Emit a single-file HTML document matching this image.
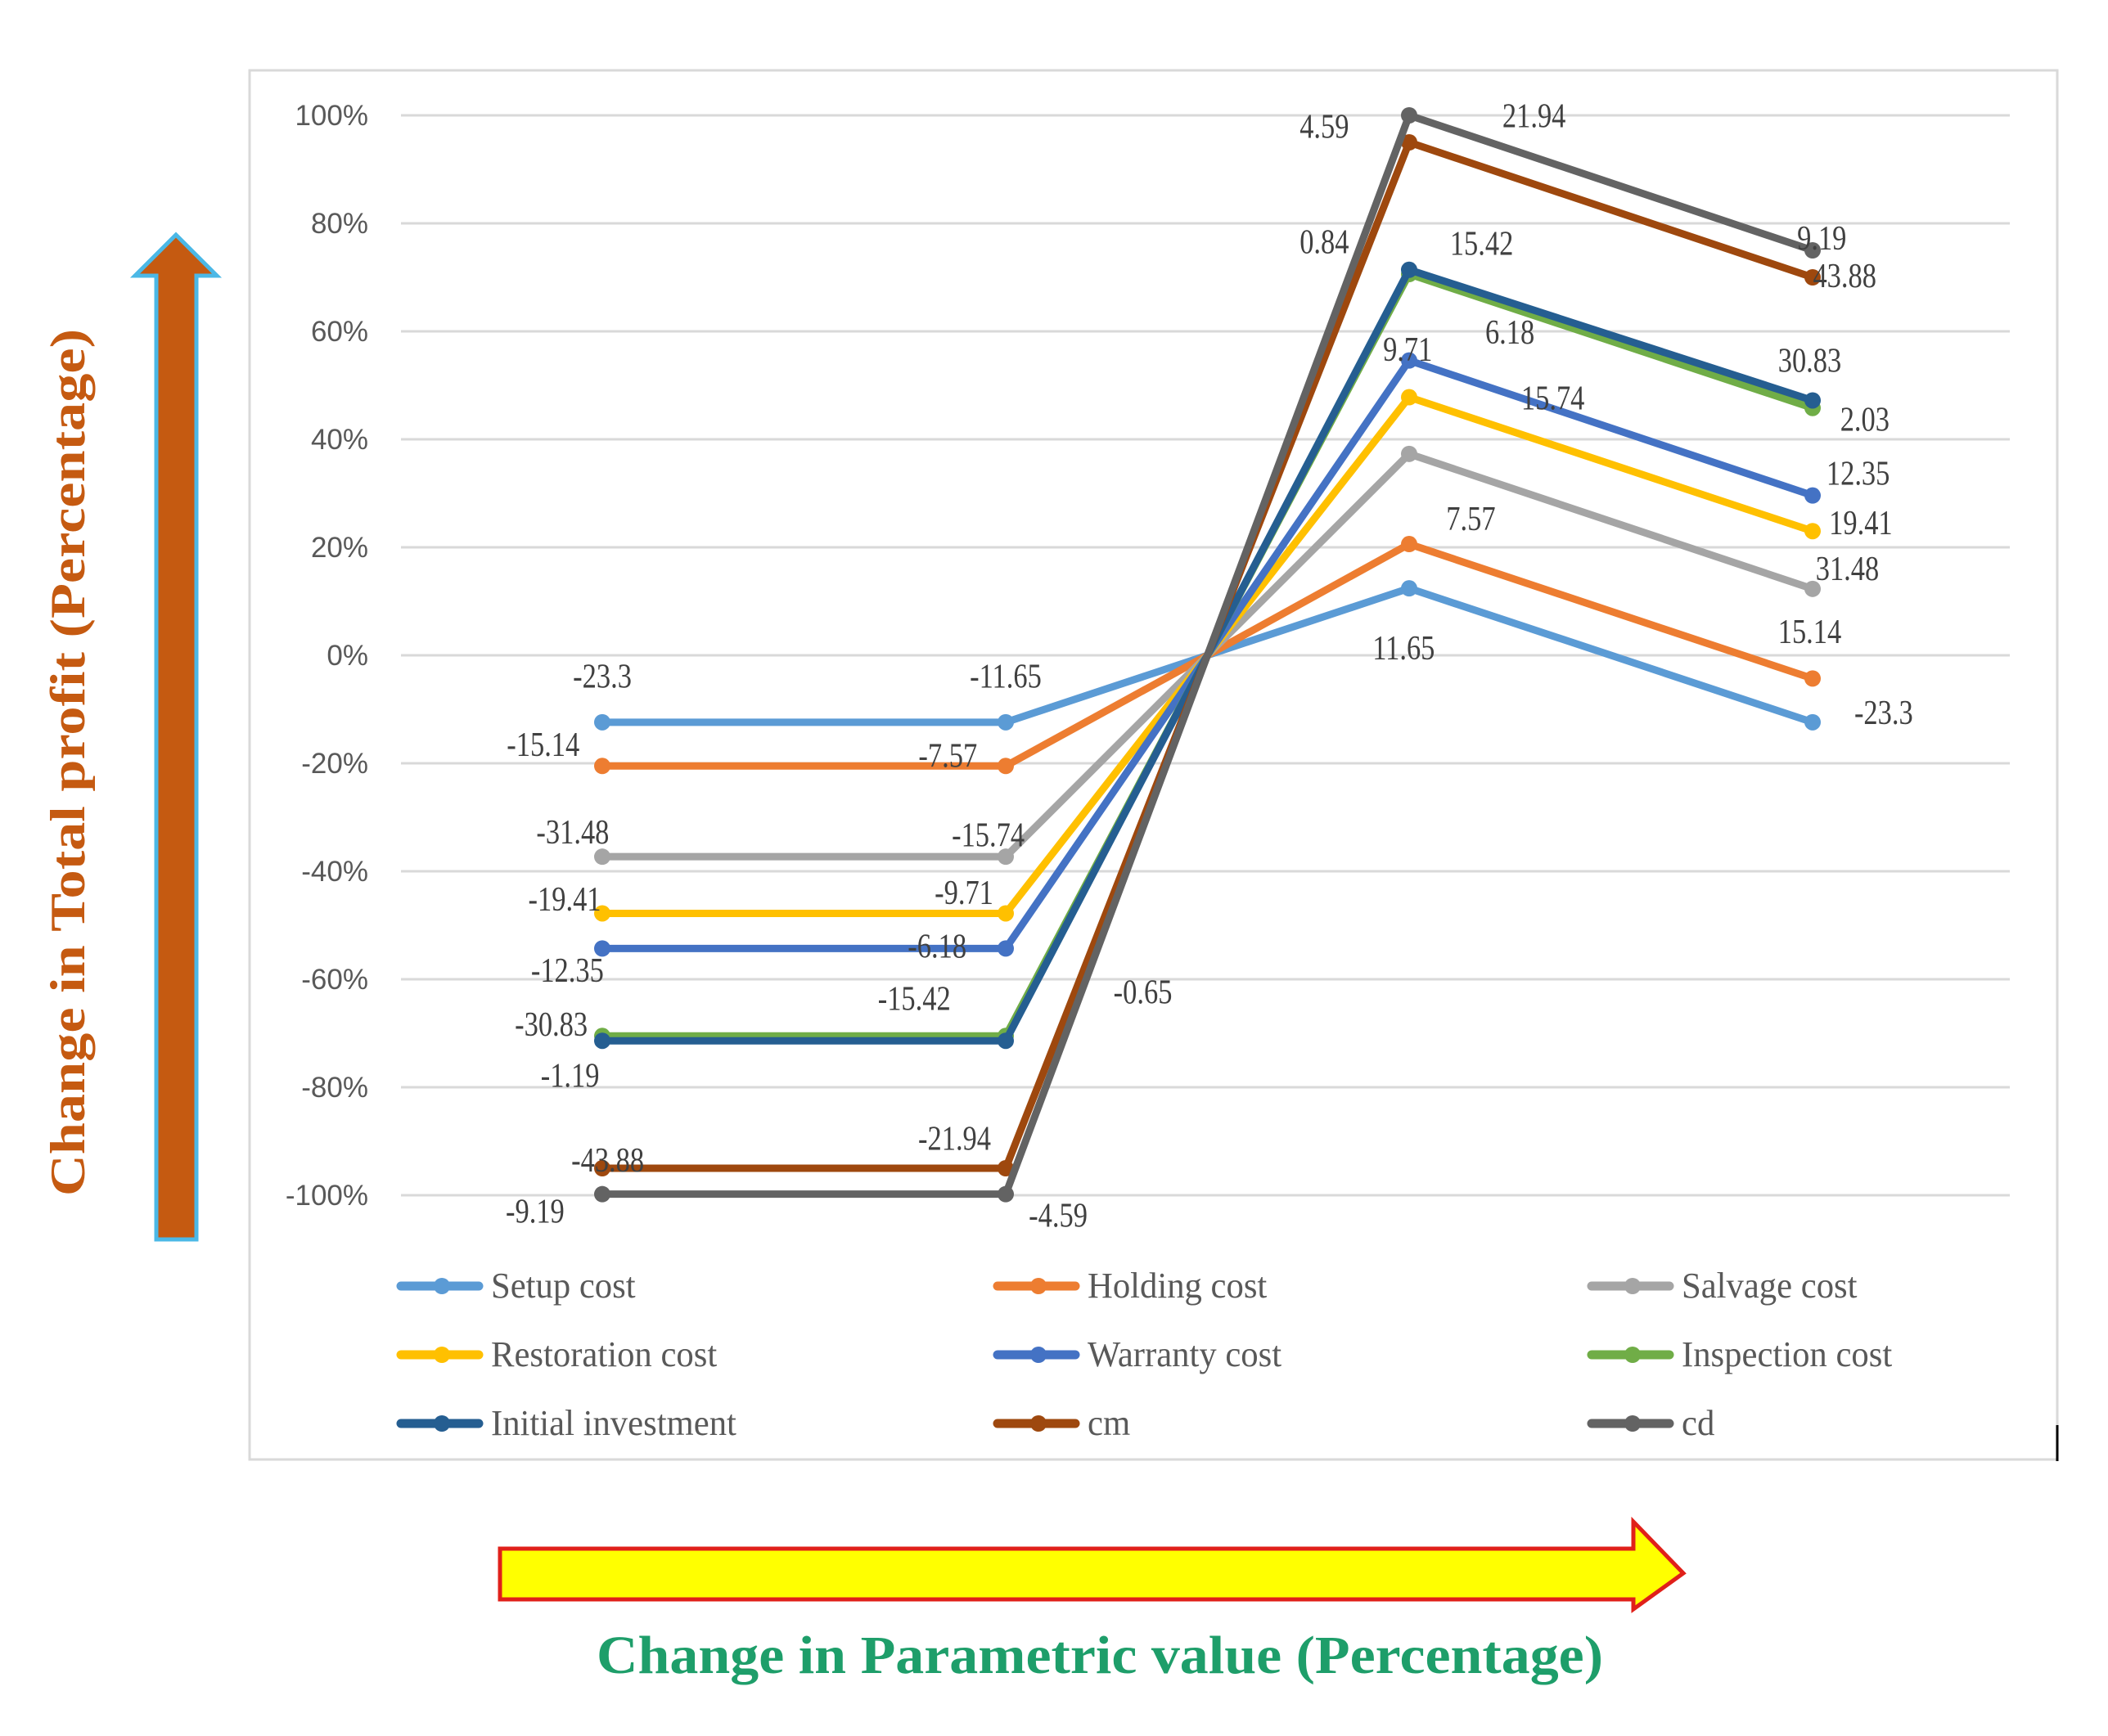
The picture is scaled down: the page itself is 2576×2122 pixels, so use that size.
<!DOCTYPE html>
<html><head><meta charset="utf-8"><style>
html,body{margin:0;padding:0;background:#fff;}
svg{display:block;}
.serif{font-family:"Liberation Serif",serif;}
.sans{font-family:"Liberation Sans",sans-serif;}
</style></head><body>
<svg id="chart" width="2576" height="2122" viewBox="0 0 2576 2122" xmlns="http://www.w3.org/2000/svg">
<rect x="305" y="86" width="2209" height="1698" fill="#fff" stroke="#d9d9d9" stroke-width="3"/>
<line x1="2514" y1="1742" x2="2514" y2="1786" stroke="#000" stroke-width="3"/>
<g id="grid"></g>
<g id="yticks"></g>
<g id="series"></g>
<g id="labels"></g>
<g id="legend"></g>
<polygon points="191,1515 191,337 165,337 215,287 265,337 240,337 240,1515" fill="#C55A11" stroke="#4BB8E6" stroke-width="5"/>
<text id="ytitle" class="serif" x="0" y="0" transform="translate(103,932) rotate(-90)" text-anchor="middle" font-size="60" font-weight="bold" fill="#C55A11">Change in  Total profit (Percentage)</text>
<polygon points="611,1893 1996,1893 1996,1860 2057,1923 1996,1967 1996,1955 611,1955" fill="#FFFF00" stroke="#E0201A" stroke-width="5"/>
<text id="xtitle" class="serif" x="1344" y="2045" text-anchor="middle" font-size="66" font-weight="bold" fill="#1E9E6A">Change in Parametric value (Percentage)</text>
</svg>
<script>
const categories = ["-50%", "-25%", "0%", "25%", "50%"];
const categorySlots = [0, 2, 3, 4, 6];
const yTicks = [100, 80, 60, 40, 20, 0, -20, -40, -60, -80, -100];
const seriesNames = ["Setup cost","Holding cost","Salvage cost","Restoration cost","Warranty cost","Inspection cost","Initial investment","cm","cd"];
const seriesColors = ["#5B9BD5","#ED7D31","#A5A5A5","#FFC000","#4472C4","#70AD47","#255E91","#9E480E","#636363"];
const setupVals = [-12.4, -12.4, 0, 12.4, -12.4];
const holdingVals = [-20.5, -20.5, 0, 20.6, -4.3];
const salvageVals = [-37.3, -37.3, 0, 37.3, 12.3];
const restorationVals = [-47.8, -47.8, 0, 47.8, 23.0];
const warrantyVals = [-54.3, -54.3, 0, 54.6, 29.6];
const inspectionVals = [-70.5, -70.5, 0, 70.6, 45.8];
const initialVals = [-71.4, -71.4, 0, 71.4, 47.2];
const cmVals = [-95.0, -95.0, 0, 95.0, 70.0];
const cdVals = [-99.8, -99.8, 0, 100, 75.0];
const allSeries = [setupVals, holdingVals, salvageVals, restorationVals, warrantyVals, inspectionVals, initialVals, cmVals, cdVals];
const labelTexts = ["-23.3","-11.65","-15.14","-7.57","-31.48","-15.74","-19.41","-9.71","-12.35","-6.18","-30.83","-15.42","-0.65","-1.19","-43.88","-21.94","-9.19","-4.59","4.59","21.94","0.84","15.42","9.71","6.18","15.74","7.57","11.65","9.19","43.88","30.83","2.03","12.35","19.41","31.48","15.14","-23.3"];
const labelSpots = [[448,503],[748,503],[404,554],[705,562],[426,619],[735,621],[420,669],[717,664],[422,722],[697,704],[410,762],[680,743],[850,738],[424,800],[452,863],[710,847],[398,901],[787,904],[985,94],[1141,86],[985,180],[1102,181],[1047,260],[1123,247],[1155,296],[1094,386],[1044,482],[1355,177],[1372,205],[1346,268],[1387,312],[1382,352],[1384,389],[1374,423],[1346,470],[1401,530]];

const NS = "http://www.w3.org/2000/svg";
const xPos = i => 736 + categorySlots[i] * 246.5;
const yPos = v => 801 - v * 6.6;
const S = 1.643;
function mk(tag, attrs, parent){const e=document.createElementNS(NS,tag);for(const k in attrs)e.setAttribute(k,attrs[k]);parent.appendChild(e);return e;}

const grid=document.getElementById('grid'), yt=document.getElementById('yticks');
yTicks.forEach(t=>{
  const l=mk('line',{x1:490,x2:2456,y1:yPos(t),y2:yPos(t),stroke:'#d9d9d9','stroke-width':3},grid);
  
  
  const tx=mk('text',{x:450,y:yPos(t)+12,'text-anchor':'end','font-size':35,fill:'#595959','class':'sans'},yt);
  tx.textContent=t+'%';
  
  
});

const sg=document.getElementById('series');
allSeries.forEach((vals,si)=>{
  const g=mk('g',{},sg);
  
  
  const pts=vals.map((v,i)=>xPos(i)+','+yPos(v)).join(' ');
  const pl=mk('polyline',{points:pts,fill:'none',stroke:seriesColors[si],'stroke-width':9,'stroke-linejoin':'round'},g);
  
  
  vals.forEach((v,i)=>{
    if(i===2) return;
    const c=mk('circle',{cx:xPos(i),cy:yPos(v),r:10,fill:seriesColors[si]},g);
    
    
  });
});

const lg=document.getElementById('labels');
labelTexts.forEach((t,i)=>{
  const tx=mk('text',{x:labelSpots[i][0]*S,y:labelSpots[i][1]*S+14,'text-anchor':'middle','font-size':42,fill:'#404040','class':'serif'},lg);
  tx.textContent=t;
  
  
});

const leg=document.getElementById('legend');
const colX=[490,1219,1945], rowY=[1572,1656,1740];
seriesNames.forEach((n,i)=>{
  const x=colX[i%3], y=rowY[Math.floor(i/3)];
  const g=mk('g',{},leg);
  
  
  mk('line',{x1:x,x2:x+95,y1:y,y2:y,stroke:seriesColors[i],'stroke-width':11,'stroke-linecap':'round'},g);
  mk('circle',{cx:x+50,cy:y,r:10,fill:seriesColors[i]},g);
  const tx=mk('text',{x:x+110,y:y+14,'font-size':44,fill:'#595959','class':'serif'},g);
  tx.textContent=n;
});

document.querySelectorAll('#labels text').forEach(t=>{
  const w=t.getComputedTextLength();
  t.setAttribute('textLength',(w*0.82).toFixed(1));
  t.setAttribute('lengthAdjust','spacingAndGlyphs');
});
document.querySelectorAll('#legend text').forEach(t=>{
  const w=t.getComputedTextLength();
  t.setAttribute('textLength',(w*0.97).toFixed(1));
  t.setAttribute('lengthAdjust','spacingAndGlyphs');
});
['ytitle','xtitle'].forEach(id=>{
  const t=document.getElementById(id);
  t.setAttribute('textLength',(id==='ytitle'?1060:1230));
  t.setAttribute('lengthAdjust','spacingAndGlyphs');
});
</script>
</body></html>
